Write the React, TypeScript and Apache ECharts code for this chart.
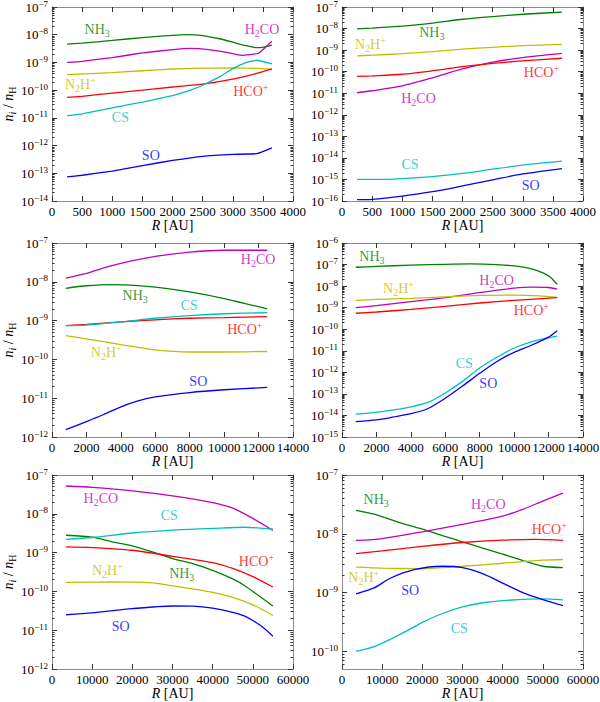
import React, { useEffect, useRef } from "react";
import * as echarts from "echarts";

type Pt = [number, number];
type Lab = [string, number, number];

// top-left panel
const p1_NH3: Pt[] = [[250, 4.6e-9], [500, 5.0e-9], [1000, 6.2e-9], [1500, 7.9e-9], [2000, 9.5e-9], [2200, 1.0e-8], [2500, 9.3e-9], [2800, 7.0e-9], [3000, 5.4e-9], [3200, 4.1e-9], [3400, 3.4e-9], [3500, 3.5e-9], [3650, 4.2e-9]];
const p1_H2CO: Pt[] = [[250, 1.0e-9], [500, 1.1e-9], [1000, 1.5e-9], [1500, 2.2e-9], [2000, 2.9e-9], [2300, 3.2e-9], [2600, 2.9e-9], [2900, 2.3e-9], [3150, 1.8e-9], [3420, 2.1e-9], [3650, 5.8e-9]];
const p1_N2H: Pt[] = [[250, 3.6e-10], [1000, 4.3e-10], [1500, 5.0e-10], [2000, 5.8e-10], [2500, 6.2e-10], [3000, 6.3e-10], [3400, 6.1e-10], [3650, 5.6e-10]];
const p1_HCO: Pt[] = [[250, 5.5e-11], [500, 6.0e-11], [1000, 7.8e-11], [1500, 1.0e-10], [2000, 1.3e-10], [2500, 1.65e-10], [3000, 2.5e-10], [3400, 4.0e-10], [3650, 5.8e-10]];
const p1_CS: Pt[] = [[250, 1.2e-11], [500, 1.4e-11], [1000, 2.3e-11], [1500, 3.7e-11], [2000, 6.4e-11], [2300, 1.0e-10], [2500, 1.5e-10], [2800, 3.2e-10], [3000, 6.0e-10], [3200, 9.5e-10], [3400, 1.2e-9], [3650, 8.8e-10]];
const p1_SO: Pt[] = [[250, 7.4e-14], [500, 8.5e-14], [1000, 1.2e-13], [1500, 1.9e-13], [2000, 2.9e-13], [2500, 4.1e-13], [3000, 4.8e-13], [3400, 5.1e-13], [3650, 8.3e-13]];
const p1_labels: Lab[] = [["NH3", 750, 1.5e-8], ["H2CO", 3485, 1.6e-8], ["N2H", 470, 1.6e-10], ["HCO", 3300, 9.1e-11], ["CS", 1135, 1.0e-11], ["SO", 1640, 4.5e-13]];

// top-right panel
const p2_NH3: Pt[] = [[250, 9.7e-9], [500, 1.05e-8], [1000, 1.3e-8], [1500, 1.8e-8], [2000, 2.7e-8], [2500, 3.6e-8], [3000, 4.6e-8], [3650, 5.8e-8]];
const p2_N2H: Pt[] = [[250, 5.4e-10], [500, 5.8e-10], [1000, 6.8e-10], [1500, 8.5e-10], [2000, 1.1e-9], [2500, 1.35e-9], [3000, 1.6e-9], [3650, 1.85e-9]];
const p2_HCO: Pt[] = [[250, 6.0e-11], [500, 6.4e-11], [1000, 7.6e-11], [1500, 1.1e-10], [2000, 1.7e-10], [2500, 2.4e-10], [3000, 3.2e-10], [3650, 4.2e-10]];
const p2_H2CO: Pt[] = [[250, 1.05e-11], [500, 1.3e-11], [1000, 2.2e-11], [1500, 5.2e-11], [2000, 1.35e-10], [2500, 2.8e-10], [3000, 4.5e-10], [3650, 7.0e-10]];
const p2_CS: Pt[] = [[250, 1.0e-15], [500, 1.0e-15], [1000, 1.1e-15], [1500, 1.35e-15], [2000, 1.9e-15], [2500, 3.0e-15], [3000, 4.6e-15], [3650, 7.0e-15]];
const p2_SO: Pt[] = [[250, 1.15e-16], [500, 1.2e-16], [1000, 1.7e-16], [1500, 2.7e-16], [2000, 5.0e-16], [2500, 9.5e-16], [3000, 1.8e-15], [3650, 3.2e-15]];
const p2_labels: Lab[] = [["NH3", 1490, 6.8e-9], ["N2H", 470, 1.74e-9], ["HCO", 3310, 8.9e-11], ["H2CO", 1270, 5.4e-12], ["CS", 1130, 4.8e-15], ["SO", 3130, 5.0e-16]];

// middle-left panel
const p3_H2CO: Pt[] = [[800, 1.25e-8], [2000, 1.65e-8], [3000, 2.3e-8], [4000, 3.0e-8], [6000, 4.5e-8], [8000, 5.8e-8], [10000, 6.5e-8], [12500, 6.5e-8]];
const p3_NH3: Pt[] = [[800, 6.8e-9], [2000, 7.9e-9], [3500, 8.5e-9], [5000, 8.0e-9], [6000, 7.3e-9], [8000, 5.5e-9], [10000, 3.7e-9], [12500, 2.0e-9]];
const p3_CS: Pt[] = [[800, 7.4e-10], [2000, 7.6e-10], [4000, 9.2e-10], [6000, 1.15e-9], [8000, 1.35e-9], [10000, 1.5e-9], [12500, 1.6e-9]];
const p3_HCO: Pt[] = [[800, 7.4e-10], [2000, 8.0e-10], [4000, 9.3e-10], [6000, 1.05e-9], [8000, 1.15e-9], [10000, 1.2e-9], [12500, 1.27e-9]];
const p3_N2H: Pt[] = [[800, 4.1e-10], [2000, 3.4e-10], [4000, 2.4e-10], [6000, 1.75e-10], [8000, 1.55e-10], [10000, 1.55e-10], [12500, 1.6e-10]];
const p3_SO: Pt[] = [[800, 1.55e-12], [2000, 2.5e-12], [3000, 3.8e-12], [4000, 6.0e-12], [5000, 8.5e-12], [6000, 1.08e-11], [8000, 1.4e-11], [10000, 1.65e-11], [12500, 1.9e-11]];
const p3_labels: Lab[] = [["H2CO", 11970, 3.7e-8], ["NH3", 4830, 4.5e-9], ["CS", 7975, 2.45e-9], ["HCO", 11200, 5.8e-10], ["N2H", 3150, 1.5e-10], ["SO", 8500, 2.7e-11]];

// middle-right panel
const p4_NH3: Pt[] = [[800, 7.5e-8], [2000, 8.2e-8], [4000, 9.4e-8], [6000, 1.03e-7], [7500, 1.07e-7], [9000, 1.0e-7], [10000, 8.6e-8], [11000, 6.3e-8], [12000, 3.0e-8], [12500, 1.2e-8]];
const p4_H2CO: Pt[] = [[800, 1.0e-9], [2000, 1.25e-9], [4000, 1.9e-9], [6000, 2.9e-9], [8000, 5.0e-9], [10000, 8.0e-9], [11000, 9.0e-9], [12000, 8.6e-9], [12500, 7.3e-9]];
const p4_N2H: Pt[] = [[800, 2.2e-9], [2000, 2.4e-9], [4000, 2.7e-9], [6000, 3.2e-9], [8000, 3.7e-9], [10000, 3.8e-9], [11500, 3.5e-9], [12500, 3.0e-9]];
const p4_HCO: Pt[] = [[800, 5.5e-10], [2000, 6.3e-10], [4000, 8.3e-10], [6000, 1.15e-9], [8000, 1.65e-9], [10000, 2.2e-9], [12500, 2.9e-9]];
const p4_CS: Pt[] = [[800, 1.15e-14], [2000, 1.4e-14], [3000, 1.8e-14], [4000, 2.5e-14], [5000, 4.0e-14], [6000, 1.1e-13], [7000, 3.8e-13], [8000, 1.6e-12], [9000, 5.0e-12], [10000, 1.35e-11], [11000, 2.6e-11], [12000, 4.0e-11], [12500, 4.8e-11]];
const p4_SO: Pt[] = [[800, 5.2e-15], [2000, 6.2e-15], [3000, 8.5e-15], [4000, 1.2e-14], [5000, 2.1e-14], [6000, 6.3e-14], [7000, 2.3e-13], [8000, 9.0e-13], [9000, 3.2e-12], [10000, 8.5e-12], [11000, 1.8e-11], [12000, 4.3e-11], [12500, 8.5e-11]];
const p4_labels: Lab[] = [["NH3", 1740, 2.4e-7], ["N2H", 3280, 8.1e-9], ["H2CO", 8980, 1.8e-8], ["HCO", 11000, 7.1e-10], ["CS", 7100, 2.7e-12], ["SO", 8500, 2.9e-13]];

// bottom-left panel
const p5_H2CO: Pt[] = [[3500, 5.2e-8], [10000, 4.8e-8], [20000, 3.9e-8], [30000, 2.9e-8], [40000, 1.95e-8], [45000, 1.4e-8], [50000, 7.6e-9], [55000, 3.7e-9]];
const p5_CS: Pt[] = [[3500, 2.2e-9], [10000, 2.45e-9], [20000, 3.2e-9], [30000, 3.8e-9], [40000, 4.2e-9], [48000, 4.5e-9], [55000, 4.0e-9]];
const p5_NH3: Pt[] = [[3500, 2.8e-9], [10000, 2.5e-9], [15000, 1.9e-9], [20000, 1.5e-9], [25000, 1.05e-9], [30000, 7.0e-10], [35000, 5.2e-10], [40000, 3.5e-10], [45000, 2.1e-10], [48000, 1.4e-10], [55000, 4.2e-11]];
const p5_HCO: Pt[] = [[3500, 1.4e-9], [10000, 1.35e-9], [20000, 1.15e-9], [30000, 8.0e-10], [40000, 5.5e-10], [45000, 3.9e-10], [50000, 2.4e-10], [55000, 1.3e-10]];
const p5_N2H: Pt[] = [[3500, 1.7e-10], [15000, 1.75e-10], [25000, 1.65e-10], [30000, 1.4e-10], [40000, 9.5e-11], [45000, 7.0e-11], [50000, 4.5e-11], [55000, 2.4e-11]];
const p5_SO: Pt[] = [[3500, 2.5e-11], [10000, 2.8e-11], [20000, 3.6e-11], [30000, 4.2e-11], [35000, 4.15e-11], [40000, 3.7e-11], [45000, 2.9e-11], [48000, 2.3e-11], [52000, 1.3e-11], [55000, 7.0e-12]];
const p5_labels: Lab[] = [["H2CO", 12170, 2.5e-8], ["CS", 29200, 8.9e-9], ["HCO", 50900, 6.0e-10], ["N2H", 13800, 3.5e-10], ["NH3", 32300, 2.95e-10], ["SO", 17100, 1.26e-11]];

// bottom-right panel
const p6_NH3: Pt[] = [[3500, 2.5e-8], [8000, 2.15e-8], [15000, 1.5e-8], [20000, 1.2e-8], [25000, 9.3e-9], [30000, 7.3e-9], [35000, 5.7e-9], [40000, 4.5e-9], [45000, 3.5e-9], [50000, 2.8e-9], [55000, 2.65e-9]];
const p6_H2CO: Pt[] = [[3500, 7.7e-9], [10000, 8.3e-9], [20000, 1.08e-8], [30000, 1.45e-8], [40000, 2.0e-8], [45000, 2.6e-8], [50000, 3.6e-8], [55000, 4.9e-8]];
const p6_HCO: Pt[] = [[3500, 4.6e-9], [10000, 5.1e-9], [20000, 6.1e-9], [30000, 7.1e-9], [40000, 7.8e-9], [48000, 8.0e-9], [55000, 7.7e-9]];
const p6_N2H: Pt[] = [[3500, 2.7e-9], [10000, 2.6e-9], [20000, 2.55e-9], [30000, 2.8e-9], [40000, 3.15e-9], [50000, 3.55e-9], [55000, 3.65e-9]];
const p6_SO: Pt[] = [[3500, 9.5e-10], [8000, 1.2e-9], [12000, 1.75e-9], [18000, 2.45e-9], [25000, 2.8e-9], [30000, 2.65e-9], [35000, 2.1e-9], [40000, 1.45e-9], [45000, 1.0e-9], [50000, 7.6e-10], [55000, 6.0e-10]];
const p6_CS: Pt[] = [[3500, 1.0e-10], [8000, 1.2e-10], [12000, 1.6e-10], [16000, 2.2e-10], [20000, 3.1e-10], [25000, 4.4e-10], [30000, 5.7e-10], [35000, 6.7e-10], [40000, 7.3e-10], [50000, 7.8e-10], [55000, 7.5e-10]];
const p6_labels: Lab[] = [["NH3", 8500, 3.9e-8], ["H2CO", 36400, 3.2e-8], ["HCO", 51600, 1.17e-8], ["N2H", 5400, 1.78e-9], ["SO", 17000, 1.07e-9], ["CS", 29200, 2.45e-10]];

const FONT = "'Liberation Serif', 'DejaVu Serif', serif";

const COLORS: Record<string, string> = {
  NH3: "#008000",
  H2CO: "#bf00bf",
  N2H: "#bfbf00",
  HCO: "#ff0000",
  CS: "#00bfbf",
  SO: "#0000ff",
};

const FORMULA: Record<string, string> = {
  NH3: "{m|NH}{d|3}",
  H2CO: "{m|H}{d|2}{m|CO}",
  N2H: "{m|N}{d|2}{m|H}{u|+}",
  HCO: "{m|HCO}{u|+}",
  CS: "{m|CS}",
  SO: "{m|SO}",
};

const panels = [
  { left: 52, top: 7, xMax: 4000, xStep: 500, yMin: 1e-14, yMax: 1e-7, yName: true, labels: p1_labels,
    lines: { NH3: p1_NH3, H2CO: p1_H2CO, N2H: p1_N2H, HCO: p1_HCO, CS: p1_CS, SO: p1_SO } },
  { left: 342, top: 7, xMax: 4000, xStep: 500, yMin: 1e-16, yMax: 1e-7, yName: false, labels: p2_labels,
    lines: { NH3: p2_NH3, H2CO: p2_H2CO, N2H: p2_N2H, HCO: p2_HCO, CS: p2_CS, SO: p2_SO } },
  { left: 52, top: 243, xMax: 14000, xStep: 2000, yMin: 1e-12, yMax: 1e-7, yName: true, labels: p3_labels,
    lines: { NH3: p3_NH3, H2CO: p3_H2CO, N2H: p3_N2H, HCO: p3_HCO, CS: p3_CS, SO: p3_SO } },
  { left: 342, top: 243, xMax: 14000, xStep: 2000, yMin: 1e-15, yMax: 1e-6, yName: false, labels: p4_labels,
    lines: { NH3: p4_NH3, H2CO: p4_H2CO, N2H: p4_N2H, HCO: p4_HCO, CS: p4_CS, SO: p4_SO } },
  { left: 52, top: 475, xMax: 60000, xStep: 10000, yMin: 1e-12, yMax: 1e-7, yName: true, labels: p5_labels,
    lines: { NH3: p5_NH3, H2CO: p5_H2CO, N2H: p5_N2H, HCO: p5_HCO, CS: p5_CS, SO: p5_SO } },
  { left: 342, top: 475, xMax: 60000, xStep: 10000, yMin: 5e-11, yMax: 1e-7, yName: false, labels: p6_labels,
    lines: { NH3: p6_NH3, H2CO: p6_H2CO, N2H: p6_N2H, HCO: p6_HCO, CS: p6_CS, SO: p6_SO } },
];

const FRAME = "#8c8c8c";
const TICK = "#333";

const formulaRich = {
  m: { fontFamily: FONT, fontSize: 14, lineHeight: 18 },
  d: { fontFamily: FONT, fontSize: 10, lineHeight: 10, verticalAlign: "bottom" },
  u: { fontFamily: FONT, fontSize: 10, lineHeight: 10, verticalAlign: "top" },
};

const powRich = {
  b: { fontFamily: FONT, fontSize: 13, lineHeight: 16, color: "#000" },
  s: { fontFamily: FONT, fontSize: 9, lineHeight: 9, verticalAlign: "top", color: "#000" },
};

const nameRich = {
  it: { fontFamily: FONT, fontSize: 14, fontStyle: "italic", fontWeight: "normal", lineHeight: 18, color: "#000" },
  r: { fontFamily: FONT, fontSize: 14, fontWeight: "normal", lineHeight: 18, color: "#000" },
  si: { fontFamily: FONT, fontSize: 10, fontStyle: "italic", fontWeight: "normal", lineHeight: 10, verticalAlign: "bottom", color: "#000" },
  sr: { fontFamily: FONT, fontSize: 10, fontWeight: "normal", lineHeight: 10, verticalAlign: "bottom", color: "#000" },
};

function decadeTicks(lo: number, hi: number) {
  const major: number[] = [];
  const minor: number[] = [];
  for (let n = Math.floor(lo) - 1; n <= Math.ceil(hi); n++) {
    if (n >= lo - 1e-9 && n <= hi + 1e-9) major.push(n);
    for (let k = 2; k <= 9; k++) {
      const v = n + Math.log10(k);
      if (v > lo && v < hi) minor.push(v);
    }
  }
  return { major, minor };
}

function buildOption() {
  const grid: any[] = [];
  const xAxis: any[] = [];
  const yAxis: any[] = [];
  const series: any[] = [];

  panels.forEach((p, i) => {
    grid.push({ left: p.left, top: p.top, width: 241, height: 194, containLabel: false, outerBoundsMode: "none" });
    const lo = Math.log10(p.yMin);
    const hi = Math.log10(p.yMax);
    const { major, minor } = decadeTicks(lo, hi);

    const xBase = {
      type: "value", gridIndex: i, min: 0, max: p.xMax, interval: p.xStep,
      splitLine: { show: false },
      axisLine: { show: true, onZero: false, lineStyle: { color: FRAME, width: 1 } },
      axisTick: { show: true, inside: true, length: 5, lineStyle: { color: TICK } },
    };
    xAxis.push({
      ...xBase, position: "bottom",
      axisLabel: {
        show: true, fontFamily: FONT, fontSize: 13, color: "#000", margin: 4,
        showMinLabel: true, showMaxLabel: true, hideOverlap: false,
        formatter: (v: number) => String(Math.round(v)),
      },
      name: "{it|R}{r| [AU]}", nameLocation: "middle", nameGap: 13,
      nameTextStyle: { fontWeight: "normal", rich: nameRich },
    });
    xAxis.push({ ...xBase, position: "top", axisLabel: { show: false } });

    const yBase = {
      type: "value", gridIndex: i, min: lo, max: hi,
      splitLine: { show: false },
    };
    const majorTick = { show: true, inside: true, length: 5, customValues: major, lineStyle: { color: TICK } };
    const minorTick = { show: true, inside: true, length: 2.5, customValues: minor, lineStyle: { color: TICK } };
    yAxis.push({
      ...yBase, position: "left",
      axisLine: { show: true, onZero: false, lineStyle: { color: FRAME, width: 1 } },
      axisTick: majorTick,
      axisLabel: {
        show: true, customValues: major, margin: 4, rich: powRich,
        formatter: (v: number) => `{b|10}{s|−${Math.abs(Math.round(v))}}`,
      },
      ...(p.yName
        ? {
            name: "{it|n}{si|i}{r| / }{it|n}{sr|H}", nameLocation: "middle", nameRotate: 90, nameGap: 32,
            nameTextStyle: { fontWeight: "normal", rich: nameRich },
          }
        : {}),
    });
    yAxis.push({ ...yBase, position: "left", axisLine: { show: false, onZero: false }, axisTick: minorTick, axisLabel: { show: false } });
    yAxis.push({
      ...yBase, position: "right",
      axisLine: { show: true, onZero: false, lineStyle: { color: FRAME, width: 1 } },
      axisTick: majorTick, axisLabel: { show: false },
    });
    yAxis.push({ ...yBase, position: "right", axisLine: { show: false, onZero: false }, axisTick: minorTick, axisLabel: { show: false } });

    Object.entries(p.lines).forEach(([sp, pts]) => {
      series.push({
        type: "line", xAxisIndex: 2 * i, yAxisIndex: 4 * i,
        data: pts.map(([x, y]) => [x, Math.log10(y)]),
        showSymbol: false, smooth: i === 0 ? 0.1 : 0.25, silent: true,
        lineStyle: { color: COLORS[sp], width: 1.3 },
        itemStyle: { color: COLORS[sp] },
      });
    });

    series.push({
      type: "scatter", xAxisIndex: 2 * i, yAxisIndex: 4 * i, symbolSize: 0, silent: true,
      data: p.labels.map(([sp, x, y]) => ({
        value: [x, Math.log10(y)],
        label: { show: true, position: "inside", formatter: FORMULA[sp], color: COLORS[sp], rich: formulaRich },
      })),
    });
  });

  return { animation: false, backgroundColor: "#fff", grid, xAxis, yAxis, series };
}

export default function App() {
  const ref = useRef<HTMLDivElement>(null);

  useEffect(() => {
    if (!ref.current) return;
    const chart = echarts.init(ref.current, null, { renderer: "svg" });
    chart.setOption(buildOption() as any);
    return () => chart.dispose();
  }, []);

  return <div ref={ref} style={{ position: "absolute", left: 0, top: 0, width: 600, height: 702 }} />;
}
